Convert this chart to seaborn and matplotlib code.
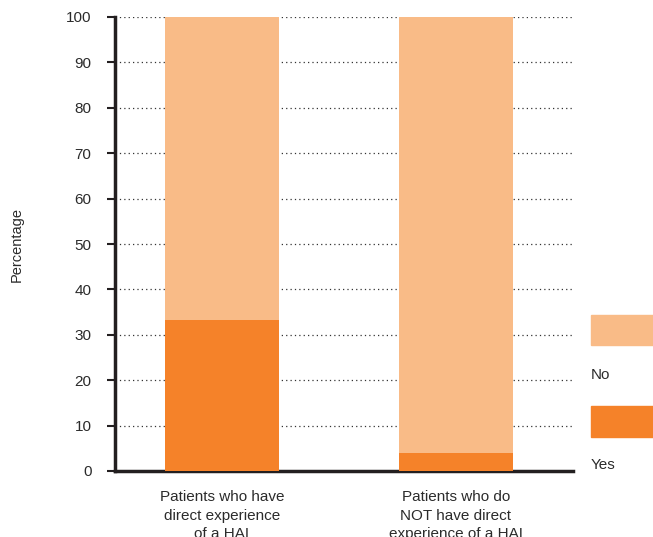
import pandas as pd
import matplotlib.pyplot as plt
import seaborn as sns
from matplotlib.patches import Rectangle

# data
categorias = ["Patients who have\ndirect experience\nof a HAI",
              "Patients who do\nNOT have direct\nexperience of a HAI"]
yes_vals = [33.3, 4.0]
no_vals = [66.7, 96.0]

cor_no = "#F9BB87"
cor_yes = "#F58229"
cor_txt = "#2b2b2b"

sns.set_style("white")
plt.rcParams["font.family"] = ["Liberation Sans", "DejaVu Sans"]

df = pd.DataFrame({"cat": categorias, "yes": yes_vals, "no": no_vals})
df["total"] = df["yes"] + df["no"]

fig = plt.figure(figsize=(6.53, 5.37), dpi=100)
ax = fig.add_axes([115 / 653, 1 - 471 / 537, 458 / 653, 454 / 537])

sns.barplot(data=df, x="cat", y="total", color=cor_no, width=0.487,
            saturation=1, ax=ax, zorder=2)
sns.barplot(data=df, x="cat", y="yes", color=cor_yes, width=0.487,
            saturation=1, ax=ax, zorder=3)
for p in ax.patches:
    p.set_linewidth(0)

ax.set_ylim(0, 100)
ax.set_xlim(-0.457, 1.5)
ax.set_yticks(range(0, 101, 10))
ax.yaxis.grid(True, linestyle=(0, (1, 2.5)), color="#333333", linewidth=0.9, zorder=0)
ax.set_axisbelow(True)

for s in ["top", "right"]:
    ax.spines[s].set_visible(False)
for s in ["left", "bottom"]:
    ax.spines[s].set_linewidth(2.5)
    ax.spines[s].set_color("#231f20")

ax.tick_params(axis="y", direction="out", length=6, width=1.5, color="#231f20",
               labelsize=11, labelcolor=cor_txt, pad=11, left=True)
ax.tick_params(axis="x", length=0, labelsize=11, labelcolor=cor_txt, pad=14)
for t in ax.get_xticklabels():
    t.set_linespacing(1.4)
ax.set_xlabel("")
ax.set_ylabel("")
fig.text(17 / 653, 1 - 244 / 537, "Percentage", rotation=90, ha="center",
         va="center", fontsize=10.5, color=cor_txt)

# legenda manual
fig.patches.append(Rectangle((591 / 653, 1 - 345 / 537), 70 / 653, 30 / 537,
                             transform=fig.transFigure, color=cor_no))
fig.text(591 / 653, 1 - 375 / 537, "No", ha="left", va="center", fontsize=11,
         color=cor_txt)
fig.patches.append(Rectangle((591 / 653, 1 - 437 / 537), 70 / 653, 31 / 537,
                             transform=fig.transFigure, color=cor_yes))
fig.text(591 / 653, 1 - 465 / 537, "Yes", ha="left", va="center", fontsize=11,
         color=cor_txt)

fig.savefig("out.png", dpi=100)
